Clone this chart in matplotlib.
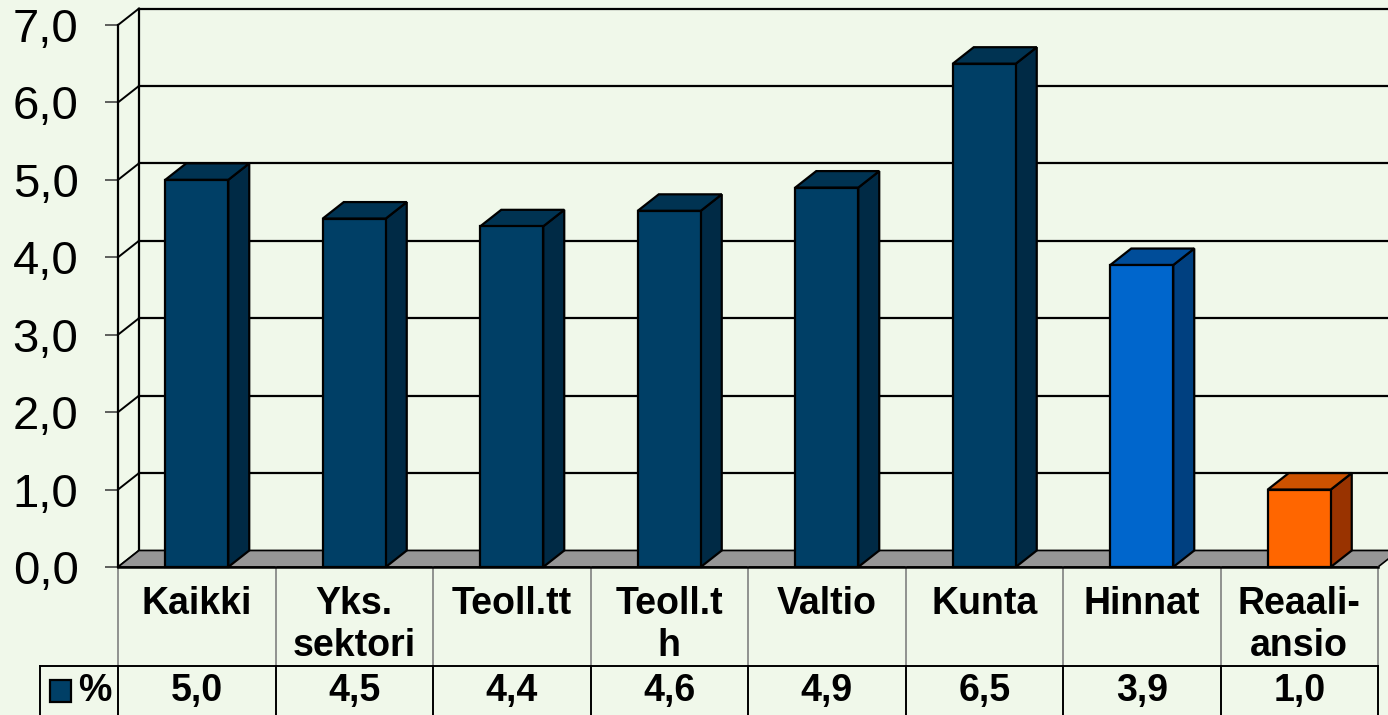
import matplotlib.pyplot as plt
from matplotlib.patches import Polygon, Rectangle

plt.rcParams['font.family'] = ['Liberation Sans', 'DejaVu Sans']

# data
categories = ["Kaikki", "Yks.\nsektori", "Teoll.tt", "Teoll.t\nh", "Valtio", "Kunta", "Hinnat", "Reaali-\nansio"]
values = [5.0, 4.5, 4.4, 4.6, 4.9, 6.5, 3.9, 1.0]
yticks = [0, 1, 2, 3, 4, 5, 6, 7]
series_name = "%"

# colours (front, side, top) per bar
navy = ("#003F66", "#002A45", "#003352")
blue = ("#0066CC", "#004080", "#004D99")
orange = ("#FF6600", "#993300", "#CC5200")
bar_colors = [navy] * 6 + [blue, orange]
bg = "#F0F8EA"

fig = plt.figure(figsize=(13.88, 7.15), dpi=100, facecolor=bg)
ax = fig.add_axes([118 / 1388, (715 - 567) / 715, 1260 / 1388, 542 / 715])
ax.set_facecolor("none")
n = len(values)
ax.set_xlim(0, n)
ax.set_ylim(0, 7)

# depth offset in data units
ddx = 21 / 157.5
ddy = 16.5 / 77.43

# back wall gridlines and side wall
for v in yticks:
    ax.plot([ddx, n + ddx], [v + ddy, v + ddy], color="black", lw=1.6, clip_on=False, zorder=1)
    ax.plot([0, ddx], [v, v + ddy], color="black", lw=1.4, clip_on=False, zorder=1)
ax.plot([ddx, ddx], [ddy, 7 + ddy], color="black", lw=1.6, clip_on=False, zorder=1)

# floor
ax.add_patch(Polygon([(0, 0), (n, 0), (n + ddx, ddy), (ddx, ddy)], closed=True,
                     facecolor="#969696", edgecolor="black", lw=1.2, clip_on=False, zorder=2))

# bars
w = 0.4
for i, (v, cols) in enumerate(zip(values, bar_colors)):
    x0 = i + 0.5 - w / 2
    x1 = x0 + w
    front = Rectangle((x0, 0), w, v, facecolor=cols[0], edgecolor="black", lw=1.6, zorder=5, clip_on=False)
    side = Polygon([(x1, 0), (x1 + ddx, ddy), (x1 + ddx, v + ddy), (x1, v)], closed=True,
                   facecolor=cols[1], edgecolor="black", lw=1.6, zorder=4, clip_on=False)
    top = Polygon([(x0, v), (x1, v), (x1 + ddx, v + ddy), (x0 + ddx, v + ddy)], closed=True,
                  facecolor=cols[2], edgecolor="black", lw=1.6, zorder=4, clip_on=False)
    ax.add_patch(side)
    ax.add_patch(top)
    ax.add_patch(front)

# axes styling
for s in ["top", "right"]:
    ax.spines[s].set_visible(False)
ax.spines["left"].set_linewidth(1.6)
ax.spines["bottom"].set_linewidth(1.8)
ax.spines["left"].set_zorder(6)
ax.spines["bottom"].set_zorder(6)
ax.set_xticks([])
ax.set_yticks(yticks)
ax.set_yticklabels([f"{t:.1f}".replace(".", ",") for t in yticks], fontsize=34)
ax.tick_params(axis="y", length=9.4, width=1.2, color="#444444", pad=19)

# data table below
px = 77.43  # pixels per value unit
hdr_bot = -(666 - 567) / px
row_bot = -(722 - 567) / px
leg_left = -(118 - 40) / 157.5
grid_gray = "#808080"
for i in range(n + 1):
    ax.plot([i, i], [0, hdr_bot], color=grid_gray, lw=1.2, clip_on=False, zorder=3)
    ax.plot([i, i], [hdr_bot, row_bot], color="black", lw=1.4, clip_on=False, zorder=3)
ax.plot([leg_left, n], [hdr_bot, hdr_bot], color="black", lw=1.4, clip_on=False, zorder=3)
ax.plot([leg_left, leg_left], [hdr_bot, row_bot], color="black", lw=1.4, clip_on=False, zorder=3)

for i, (c, v) in enumerate(zip(categories, values)):
    ax.text(i + 0.5, -(586 - 567) / px, c, ha="center", va="top", fontsize=27,
            fontweight="bold", linespacing=1.22, clip_on=False)
    ax.text(i + 0.5, -(691 - 567) / px, f"{v:.1f}".replace(".", ","), ha="center", va="center",
            fontsize=27, fontweight="bold", clip_on=False)

# legend key in table
ax.add_patch(Rectangle((-(118 - 50) / 157.5, -(702 - 567) / px), 21 / 157.5, 22 / px,
                       facecolor=navy[0], edgecolor="black", lw=1.6, clip_on=False))
ax.text(-(118 - 95) / 157.5, -(691 - 567) / px, series_name, ha="center", va="center",
        fontsize=27, fontweight="bold", clip_on=False)

fig.savefig("out.png", dpi=100, facecolor=bg)
